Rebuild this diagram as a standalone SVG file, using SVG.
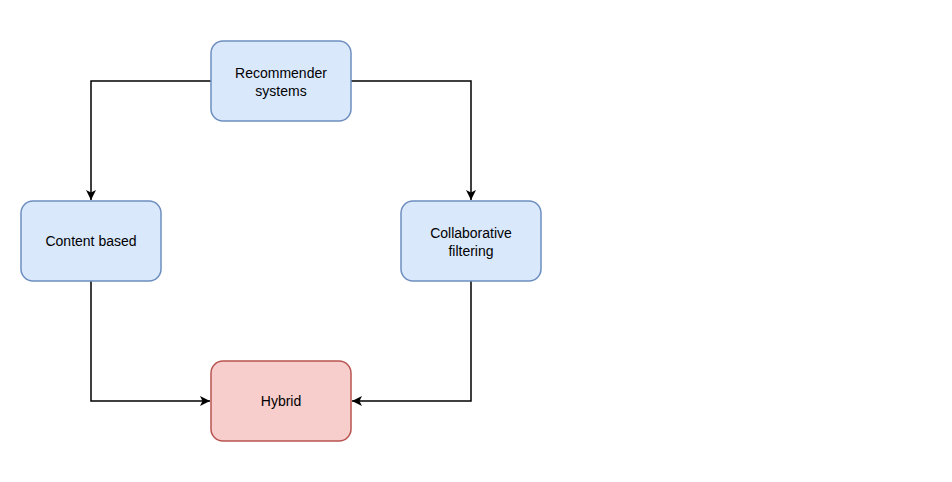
<svg xmlns="http://www.w3.org/2000/svg" width="952" height="482" viewBox="0 0 952 482">
<defs>
<style>
.blue{fill:#dae8fc;stroke:#6c8ebf;stroke-width:1.5}
.red{fill:#f8cecc;stroke:#b85450;stroke-width:1.5}
.lbl{font-family:"Liberation Sans",Arial,sans-serif;font-size:14px;fill:#000;text-anchor:middle}
.edge{fill:none;stroke:#000;stroke-width:1.5}
</style>
<marker id="arr" viewBox="0 0 10 10" refX="10" refY="5" markerWidth="10" markerHeight="10" markerUnits="userSpaceOnUse" orient="auto">
<path d="M0,0 L10,5 L0,10 L2.5,5 Z" fill="#000"/>
</marker>
</defs>
<rect width="952" height="482" fill="#fff"/>
<g id="connectors">
<path class="edge" d="M211,81 H91 V200" marker-end="url(#arr)"/>
<path class="edge" d="M351,81 H471 V200" marker-end="url(#arr)"/>
<path class="edge" d="M91,281 V401 H210" marker-end="url(#arr)"/>
<path class="edge" d="M471,281 V401 H352" marker-end="url(#arr)"/>
</g>
<g id="recommender">
<rect class="blue" x="211" y="41" width="140" height="80" rx="12"/>
<text class="lbl" x="281" y="78">Recommender</text>
<text class="lbl" x="281" y="96">systems</text>
</g>
<g id="content">
<rect class="blue" x="21" y="201" width="140" height="80" rx="12"/>
<text class="lbl" x="91" y="246">Content based</text>
</g>
<g id="collaborative">
<rect class="blue" x="401" y="201" width="140" height="80" rx="12"/>
<text class="lbl" x="471" y="238">Collaborative</text>
<text class="lbl" x="471" y="256">filtering</text>
</g>
<g id="hybrid">
<rect class="red" x="211" y="361" width="140" height="80" rx="12"/>
<text class="lbl" x="281" y="406">Hybrid</text>
</g>
</svg>
